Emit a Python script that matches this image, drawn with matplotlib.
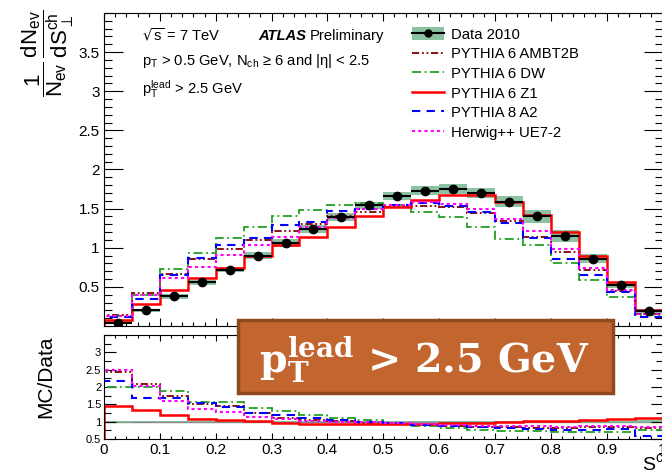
import numpy as np
import matplotlib
matplotlib.use("Agg")
import matplotlib.pyplot as plt
from matplotlib.patches import Rectangle, Patch
from matplotlib.lines import Line2D
from matplotlib.ticker import MultipleLocator

plt.rcParams["font.family"] = ["Liberation Sans", "DejaVu Sans"]
plt.rcParams["mathtext.default"] = "regular"

# bin edges of S_perp^ch
bin_edges = np.linspace(0.0, 1.0, 21)

# data 2010 and its band
data = [0.04, 0.20, 0.38, 0.56, 0.72, 0.90, 1.06, 1.24, 1.39, 1.54,
        1.66, 1.73, 1.75, 1.70, 1.59, 1.40, 1.15, 0.86, 0.52, 0.19]
data_err = [0.02, 0.02, 0.03, 0.03, 0.03, 0.04, 0.05, 0.05, 0.05, 0.05,
            0.05, 0.06, 0.06, 0.06, 0.07, 0.08, 0.08, 0.06, 0.04, 0.03]

# MC predictions (top panel)
ambt2b = [0.14, 0.42, 0.66, 0.85, 0.99, 1.10, 1.22, 1.30, 1.40, 1.46,
          1.52, 1.53, 1.52, 1.45, 1.34, 1.14, 0.95, 0.71, 0.45, 0.15]
dw = [0.13, 0.40, 0.73, 0.93, 1.13, 1.26, 1.41, 1.48, 1.54, 1.57,
      1.55, 1.46, 1.39, 1.27, 1.11, 1.04, 0.80, 0.59, 0.37, 0.14]
z1 = [0.08, 0.28, 0.46, 0.61, 0.74, 0.89, 1.03, 1.14, 1.27, 1.41,
      1.52, 1.61, 1.67, 1.67, 1.58, 1.42, 1.20, 0.90, 0.56, 0.20]
a2 = [0.12, 0.35, 0.65, 0.87, 1.03, 1.12, 1.29, 1.33, 1.47, 1.50,
      1.55, 1.57, 1.53, 1.46, 1.32, 1.13, 0.86, 0.65, 0.43, 0.12]
ue72 = [0.13, 0.40, 0.61, 0.76, 0.91, 1.04, 1.14, 1.27, 1.38, 1.50,
        1.55, 1.58, 1.56, 1.49, 1.37, 1.21, 0.98, 0.74, 0.46, 0.15]

# MC / Data ratios (bottom panel)
r_ambt2b = [2.42, 2.08, 1.74, 1.52, 1.45, 1.24, 1.12, 1.06, 1.02, 0.97,
            0.93, 0.89, 0.87, 0.86, 0.85, 0.83, 0.83, 0.84, 0.85, 0.82]
r_dw = [1.99, 1.99, 1.88, 1.57, 1.57, 1.40, 1.30, 1.18, 1.10, 1.04,
        0.96, 0.88, 0.82, 0.77, 0.72, 0.72, 0.70, 0.70, 0.70, 0.75]
r_z1 = [1.45, 1.35, 1.19, 1.09, 1.05, 1.02, 0.97, 0.93, 0.92, 0.92,
        0.93, 0.94, 0.96, 0.97, 0.99, 1.02, 1.03, 1.04, 1.07, 1.10]
r_a2 = [2.18, 1.69, 1.69, 1.54, 1.43, 1.25, 1.20, 1.10, 1.05, 1.00,
        0.95, 0.90, 0.88, 0.86, 0.83, 0.80, 0.76, 0.76, 0.80, 0.60]
r_ue72 = [2.48, 2.04, 1.59, 1.36, 1.28, 1.14, 1.07, 1.03, 1.00, 1.00,
          0.95, 0.92, 0.90, 0.88, 0.87, 0.87, 0.86, 0.87, 0.88, 0.85]
r_err = [0.03, 0.02, 0.02, 0.02, 0.02, 0.02, 0.02, 0.02, 0.02, 0.02,
         0.02, 0.02, 0.02, 0.02, 0.02, 0.02, 0.03, 0.03, 0.03, 0.04]

labels = ["Data 2010", "PYTHIA 6 AMBT2B", "PYTHIA 6 DW", "PYTHIA 6 Z1",
          "PYTHIA 8 A2", "Herwig++ UE7-2"]

band_col = "#6db38b"
styles = [
    dict(color="#800000", ls=(0, (4, 1.5, 1, 1.5, 1, 1.5)), lw=1.3),
    dict(color="#22a022", ls=(0, (5, 2, 1, 2)), lw=1.3),
    dict(color="#ff0000", ls="-", lw=1.8),
    dict(color="#0000ff", ls=(0, (4, 3)), lw=1.5),
    dict(color="#ff00ff", ls=(0, (1.5, 1.5)), lw=1.5),
]

W, H = 662, 473
fig = plt.figure(figsize=(W / 100, H / 100), dpi=100)
ax = fig.add_axes([104 / W, 1 - 326 / H, (662.5 - 104) / W, (326 - 13) / H])
ax2 = fig.add_axes([104 / W, 1 - 439 / H, (662.5 - 104) / W, (439 - 335) / H])

centers = 0.5 * (bin_edges[:-1] + bin_edges[1:])
width = bin_edges[1] - bin_edges[0]

# ---- top panel
ax.bar(centers, 2 * np.array(data_err), bottom=np.array(data) - np.array(data_err),
       width=width, color=band_col, alpha=0.8, lw=0, zorder=1)
for vals, st in zip([ambt2b, dw, z1, a2, ue72], styles):
    ax.stairs(vals, bin_edges, color=st["color"], linestyle=st["ls"],
              linewidth=st["lw"], zorder=2)
ax.errorbar(centers, data, xerr=width / 2, fmt="o", color="black",
            ms=6, elinewidth=1.5, capsize=0, zorder=3)

ax.set_xlim(0, 1)
ax.set_ylim(0, 4)
ax.set_yticks([0.5, 1, 1.5, 2, 2.5, 3, 3.5])
ax.set_yticklabels(["0.5", "1", "1.5", "2", "2.5", "3", "3.5"])
ax.yaxis.set_minor_locator(MultipleLocator(0.1))
ax.xaxis.set_major_locator(MultipleLocator(0.1))
ax.xaxis.set_minor_locator(MultipleLocator(0.02))
ax.tick_params(axis="both", which="both", direction="in", top=True, right=True,
               labelbottom=False, labelsize=11, pad=3)
ax.tick_params(axis="y", which="major", length=13.5, width=0.8)
ax.tick_params(axis="y", which="minor", length=5.5, width=0.8)
ax.tick_params(axis="x", which="major", length=5.5, width=0.8)
ax.tick_params(axis="x", which="minor", length=2.8, width=0.8)

# ---- ratio panel
ax2.axhline(1.0, color="#888888", lw=1.0, zorder=1)
ax2.bar(centers, 2 * np.array(r_err), bottom=1 - np.array(r_err),
        width=width, color=band_col, alpha=0.8, lw=0, zorder=1)
for vals, st in zip([r_ambt2b, r_dw, r_z1, r_a2, r_ue72], styles):
    ax2.stairs(vals, bin_edges, color=st["color"], linestyle=st["ls"],
               linewidth=st["lw"], zorder=2)
ax2.set_xlim(0, 1)
ax2.set_ylim(0.5, 3.5)
ax2.set_yticks([0.5, 1, 1.5, 2, 2.5, 3])
ax2.set_yticklabels(["0.5", "1", "1.5", "2", "2.5", "3"])
ax2.yaxis.set_minor_locator(MultipleLocator(0.25))
ax2.set_xticks(np.arange(0, 1.01, 0.1))
ax2.set_xticklabels(["0", "0.1", "0.2", "0.3", "0.4", "0.5", "0.6", "0.7",
                     "0.8", "0.9", "1"])
ax2.xaxis.set_minor_locator(MultipleLocator(0.02))
ax2.tick_params(axis="both", which="both", direction="in", top=True, right=True)
ax2.tick_params(axis="y", which="major", length=8.5, width=0.8, labelsize=8, pad=2)
ax2.tick_params(axis="y", which="minor", length=5, width=0.8)
ax2.tick_params(axis="x", which="major", length=4.5, width=0.8, labelsize=11, pad=3)
ax2.tick_params(axis="x", which="minor", length=2.2, width=0.8)

# ---- axis titles
fig.text(48 / W, 1 - 53 / H, r"$\dfrac{1}{N_{ev}}\,\dfrac{dN_{ev}}{dS_{\perp}^{ch}}$",
         rotation=90, ha="center", va="center", fontsize=16)
fig.text(46 / W, 1 - 377 / H, "MC/Data", rotation=90, ha="center", va="center",
         fontsize=15)
fig.text(642 / W, 1 - 470 / H, r"$S_{\perp}^{ch}$", ha="left", va="baseline",
         fontsize=14)

# ---- labels in the plot
fs = 10.6
fig.text(142 / W, 1 - 40 / H, r"$\sqrt{s}$ = 7 TeV", fontsize=fs, va="baseline")
fig.text(258 / W, 1 - 40 / H, "ATLAS", fontsize=fs, va="baseline",
         fontweight="bold", fontstyle="italic")
fig.text(310 / W, 1 - 40 / H, "Preliminary", fontsize=fs, va="baseline")
fig.text(142 / W, 1 - 65 / H, "p$_{T}$ > 0.5 GeV, N$_{ch}$ ≥ 6 and |η| < 2.5",
         fontsize=fs, va="baseline")
fig.text(142 / W, 1 - 94 / H, "p$_{T}^{lead}$ > 2.5 GeV", fontsize=fs,
         va="baseline")

# ---- legend
handles = [(Patch(facecolor=band_col, alpha=0.8, lw=0),
            Line2D([], [], color="black", marker="o", ms=5, lw=1.5))]
for st in styles:
    handles.append(Line2D([], [], color=st["color"], linestyle=st["ls"], lw=st["lw"]))
fig.legend(handles, labels, loc="upper left", bbox_to_anchor=(412 / W, 1 - 27 / H),
           frameon=False, fontsize=10.7, handlelength=2.15, handleheight=1.0,
           handletextpad=0.47, labelspacing=0.33, borderpad=0, borderaxespad=0)

# ---- orange box
box = Rectangle((238 / W, 1 - 393 / H), (613 - 238) / W, (393 - 320) / H,
                transform=fig.transFigure, facecolor="#c3652f",
                edgecolor="#8e4a1e", lw=2.5, zorder=10)
fig.patches.append(box)
fig.text(424 / W, 1 - 373 / H, r"p$_{T}^{lead}$ > 2.5 GeV", ha="center",
         va="baseline", color="white", fontsize=28.5, fontweight="bold",
         family="DejaVu Serif", zorder=11)

fig.savefig("out.png", dpi=100)
